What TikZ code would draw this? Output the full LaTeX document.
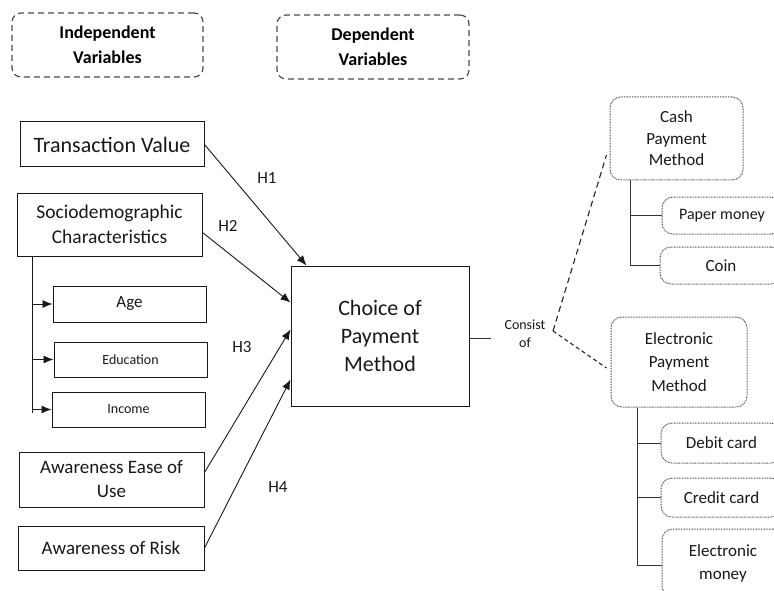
\documentclass[tikz,border=0pt]{standalone}
\usepackage{fontspec}
\setmainfont{Carlito}
\usetikzlibrary{arrows.meta,calc}
\begin{document}
\begin{tikzpicture}[x=1pt,y=-1pt,
  box/.style={draw=black!90,line width=1pt,rectangle,inner sep=0pt,align=center,text=black!90},
  hdr/.style={draw=black!70,dash pattern=on 6pt off 4pt,line width=1.2pt,rounded corners=9pt,inner sep=0pt,align=center,font=\fontsize{18}{25}\selectfont\bfseries},
  dotbox/.style={draw=black!70,line width=1pt,dash pattern=on 0.8pt off 0.8pt,rounded corners=11pt,inner sep=0pt,align=center,text=black!90},
  arr/.style={-{Latex[length=10pt,width=8pt]},line width=0.9pt,draw=black!90},
  lbl/.style={font=\fontsize{17}{20}\selectfont,inner sep=0pt,text=black!90},
  tree/.style={line width=1pt,draw=black!80}
]
\useasboundingbox (0,0) rectangle (774,591);
\fill[white] (0,0) rectangle (774,591);
\clip (0,0) rectangle (774,591);

% headers
\node[hdr,minimum width=191pt,minimum height=64pt] (indep) at (107.5,45) {Independent\\Variables};
\node[hdr,minimum width=192pt,minimum height=64pt] (dep) at (373,47) {Dependent\\Variables};

% independent variables
\node[box,minimum width=184pt,minimum height=45pt,font=\fontsize{22}{27}\selectfont] (tv) at (112,144.5) {Transaction Value};
\node[box,minimum width=185pt,minimum height=63pt,font=\fontsize{19.5}{25}\selectfont] (soc) at (109.5,224.5) {Sociodemographic\\Characteristics};
\node[box,minimum width=153pt,minimum height=36pt,font=\fontsize{17}{20}\selectfont] (age) at (129.5,304) {Age};
\node[box,minimum width=153pt,minimum height=35pt,font=\fontsize{14}{17}\selectfont] (edu) at (130.5,359.5) {Education};
\node[box,minimum width=153pt,minimum height=35pt,font=\fontsize{14}{17}\selectfont] (inc) at (128.5,409.5) {Income};
\node[box,minimum width=185pt,minimum height=55pt,font=\fontsize{19}{24}\selectfont] (aeu) at (111.5,479.5) {Awareness Ease of\\Use};
\node[box,minimum width=186pt,minimum height=44pt,font=\fontsize{19}{24}\selectfont] (aor) at (111,548) {Awareness of Risk};

% dependent
\node[box,minimum width=178pt,minimum height=140pt,font=\fontsize{22}{28}\selectfont] (choice) at (380,336) {Choice of\\Payment\\Method};

% right side
\node[dotbox,minimum width=133pt,minimum height=83pt,font=\fontsize{17}{21.5}\selectfont] (cash) at (676.5,138.5) {Cash\\Payment\\Method};
\node[dotbox,minimum width=120pt,minimum height=37pt,font=\fontsize{16}{20}\selectfont] (paper) at (722,215.5) {Paper money};
\node[dotbox,minimum width=122pt,minimum height=37pt,font=\fontsize{17}{20}\selectfont] (coin) at (721,265.5) {Coin};
\node[dotbox,minimum width=136pt,minimum height=90pt,font=\fontsize{17}{23.5}\selectfont] (elec) at (679,362) {Electronic\\Payment\\Method};
\node[dotbox,minimum width=121pt,minimum height=40pt,font=\fontsize{17}{20}\selectfont] (debit) at (721.5,443) {Debit card};
\node[dotbox,minimum width=121pt,minimum height=39pt,font=\fontsize{17}{20}\selectfont] (credit) at (721.5,497.5) {Credit card};
\node[dotbox,minimum width=122pt,minimum height=68pt,font=\fontsize{17}{23}\selectfont] (emoney) at (723,563) {Electronic\\money};

% sociodemographic tree
\coordinate (t0) at ($(soc.south west)+(16,0)$);
\coordinate (t1) at ($(t0 |- inc.west)+(0,3)$);
\draw[tree,draw=black!90] (t0) -- (t1);
\draw[arr] (t0 |- age.west) -- (age.west);
\draw[arr] (t0 |- edu.west) -- (edu.west);
\draw[arr] (t0 |- inc.west) -- (inc.west);

% hypotheses
\draw[arr] (tv.east) -- ($(choice.north west)+(16,0)$);
\draw[arr] ($(soc.east)+(0,8)$) -- ($(choice.north west)+(0,37)$);
\draw[arr] ($(aeu.east)+(0,-7)$) -- ($(choice.north west)+(0,64)$);
\draw[arr] (aor.east) -- ($(choice.north west)+(0,114)$);
\node[lbl] (h1) at (267,178) {H1};
\node[lbl] (h2) at (228,226) {H2};
\node[lbl] (h3) at (242,347) {H3};
\node[lbl] (h4) at (278,487) {H4};

% consist of
\coordinate (ce) at ($(choice.east)+(21,2)$);
\draw[line width=1pt,draw=black!80] ($(choice.east)+(0,2)$) -- (ce);
\node[font=\fontsize{14}{18}\selectfont,align=center,inner sep=0pt,text=black!90] (cons) at (525,334) {Consist\\of};
\coordinate (cv) at (553,331);
\draw[line width=1.1pt,draw=black!85,dash pattern=on 6pt off 4pt] (cv) -- ($(cash.west)+(-3,16.5)$);
\draw[line width=1.1pt,draw=black!85,dash pattern=on 4pt off 3pt] (cv) -- ($(elec.west)+(-4,6)$);

% cash tree
\coordinate (c0) at (630,0);
\draw[tree] (c0 |- cash.south) -- (c0 |- coin.west);
\draw[tree] (c0 |- paper.west) -- (paper.west);
\draw[tree] (c0 |- coin.west) -- (coin.west);

% electronic tree
\coordinate (e0) at (637,0);
\draw[tree] (e0 |- elec.south) -- ($(e0 |- emoney.west)+(0,2)$);
\draw[tree] (e0 |- debit.west) -- (debit.west);
\draw[tree] (e0 |- credit.west) -- (credit.west);
\draw[tree] ($(e0 |- emoney.west)+(0,2)$) -- ($(emoney.west)+(0,2)$);
\end{tikzpicture}
\end{document}
